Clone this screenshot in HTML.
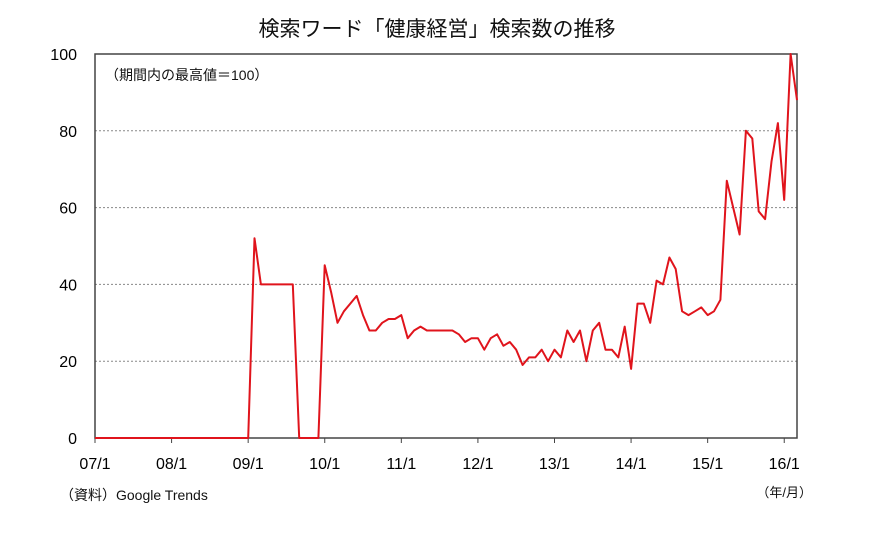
<!DOCTYPE html>
<html><head><meta charset="utf-8">
<style>
body{margin:0;background:#fff;}
svg{display:block;font-family:"Liberation Sans","Noto Sans CJK JP",sans-serif;}
</style></head>
<body>
<svg width="875" height="539" viewBox="0 0 875 539">
<text x="437" y="36" text-anchor="middle" font-size="21" fill="#111">検索ワード「健康経営」検索数の推移</text>
<g id="grid"></g>
<rect x="95" y="54" width="702" height="384" fill="none" stroke="#444" stroke-width="1.5"/>
<text x="105" y="80" font-size="14" fill="#111">（期間内の最高値＝100）</text>
<g id="yt"></g><g id="xt"></g>
<polyline id="line" fill="none" stroke="#e0141c" stroke-width="2" stroke-linejoin="round"/>
<text x="60" y="500" font-size="14" fill="#111">（資料）Google Trends</text>
<text x="812" y="497" font-size="13" fill="#111" text-anchor="end">（年/月）</text>
</svg>
<script>
const yTicks=[0,20,40,60,80,100];
const xLabels=["07/1","08/1","09/1","10/1","11/1","12/1","13/1","14/1","15/1","16/1"];
const values=[0,0,0,0,0,0,0,0,0,0,0,0,0,0,0,0,0,0,0,0,0,0,0,0,0,
52,40,40,40,40,40,40,0,0,0,0,
45,38,30,33,35,37,32,28,28,30,31,31,32,26,28,29,28,28,28,28,28,27,25,26,26,23,26,27,24,25,23,
19,21,21,23,20,23,21,28,25,28,20,28,30,23,23,21,29,18,35,35,30,41,40,47,44,33,32,33,34,32,33,36,
67,60,53,80,78,59,57,72,82,62,100,88];
const ns="http://www.w3.org/2000/svg";
const X0=95,X1=797,Y0=438,Y1=54;
const xs=i=>X0+i*(X1-X0)/(values.length-1);
const ys=v=>Y0-v*(Y0-Y1)/100;
const grid=document.getElementById('grid'),yt=document.getElementById('yt'),xt=document.getElementById('xt');
yTicks.forEach(v=>{
 if(v>0&&v<100){const l=document.createElementNS(ns,'line');
 l.setAttribute('x1',X0);l.setAttribute('x2',X1);l.setAttribute('y1',ys(v));l.setAttribute('y2',ys(v));
 l.setAttribute('stroke','#888');l.setAttribute('stroke-dasharray','2,2');
 
 
 grid.appendChild(l);}
 const t=document.createElementNS(ns,'text');
 t.setAttribute('x',77);t.setAttribute('y',ys(v)+6);t.setAttribute('text-anchor','end');t.setAttribute('font-size','16');
 t.textContent=v;
 
 
 yt.appendChild(t);
});
xLabels.forEach((s,k)=>{
 const x=xs(k*12);
 const l=document.createElementNS(ns,'line');
 l.setAttribute('x1',x);l.setAttribute('x2',x);l.setAttribute('y1',Y0);l.setAttribute('y2',Y0+5);l.setAttribute('stroke','#444');
 
 
 xt.appendChild(l);
 const t=document.createElementNS(ns,'text');
 t.setAttribute('x',x);t.setAttribute('y',469);t.setAttribute('text-anchor','middle');t.setAttribute('font-size','16');
 t.textContent=s;
 
 
 xt.appendChild(t);
});
document.getElementById('line').setAttribute('points',values.map((v,i)=>xs(i).toFixed(1)+','+ys(v).toFixed(1)).join(' '));
</script>
</body></html>
